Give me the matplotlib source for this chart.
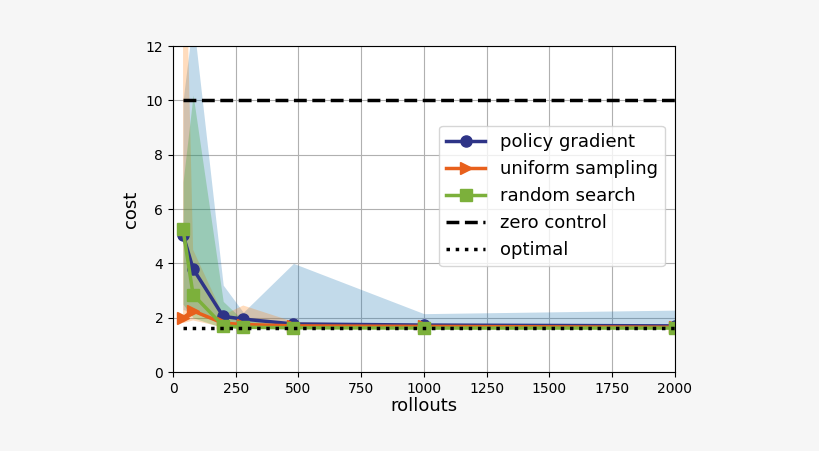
import numpy as np
import matplotlib.pyplot as plt

# rollouts budgets
rollouts = [40, 80, 200, 280, 480, 1000, 2000]

# mean cost
pg_mean = [5.05, 3.8, 2.05, 1.95, 1.77, 1.73, 1.7]
us_mean = [2.0, 2.25, 1.8, 1.75, 1.7, 1.68, 1.65]
rs_mean = [5.25, 2.85, 1.7, 1.65, 1.63, 1.62, 1.62]

# bands (min / max)
pg_low = [2.3, 2.2, 1.75, 1.7, 1.65, 1.62, 1.6]
pg_high = [10.0, 13.0, 3.2, 2.2, 4.0, 2.15, 2.28]
us_low = [1.8, 1.9, 1.65, 1.64, 1.62, 1.61, 1.6]
us_high = [20.0, 4.5, 2.1, 2.45, 1.85, 1.72, 1.7]
rs_low = [2.5, 2.0, 1.62, 1.6, 1.6, 1.6, 1.6]
rs_high = [7.0, 10.2, 2.6, 1.9, 1.75, 1.68, 1.66]

zero_cost = 10.0
optimal_cost = 1.62

fig = plt.figure(figsize=(8.2, 4.51), dpi=100, facecolor='#f6f6f6')
ax = fig.add_axes([0.211, 0.175, 0.612, 0.723])

ax.fill_between(rollouts, pg_low, pg_high, color='#1f77b4', alpha=0.27, lw=0)
ax.fill_between(rollouts, us_low, us_high, color='#ff7f0e', alpha=0.27, lw=0)
ax.fill_between(rollouts, rs_low, rs_high, color='#2ca02c', alpha=0.27, lw=0)

ax.plot(rollouts, pg_mean, '-o', color='#2e3487', lw=2.5, ms=8, label='policy gradient')
ax.plot(rollouts, us_mean, '->', color='#e8601c', lw=2.5, ms=8, label='uniform sampling')
ax.plot(rollouts, rs_mean, '-s', color='#7cb03b', lw=2.5, ms=8, label='random search')
ax.hlines(zero_cost, rollouts[0], rollouts[-1], color='black', ls='--', lw=2.5, label='zero control')
ax.hlines(optimal_cost, rollouts[0], rollouts[-1], color='black', ls=':', lw=2.5, label='optimal')

ax.set_xlim(0, 2000)
ax.set_ylim(0, 12)
ax.set_xticks([0, 250, 500, 750, 1000, 1250, 1500, 1750, 2000])
ax.set_yticks([0, 2, 4, 6, 8, 10, 12])
ax.grid(True, color='#b0b0b0', lw=0.8)
ax.set_axisbelow(True)
ax.set_xlabel('rollouts', fontsize=13, labelpad=1)
ax.set_ylabel('cost', fontsize=13)
ax.tick_params(labelsize=10)

ax.legend(fontsize=13, loc='center right', bbox_to_anchor=(0.98, 0.54),
          borderaxespad=0, handlelength=2.15, labelspacing=0.5)

fig.savefig('out.png', dpi=100, facecolor=fig.get_facecolor())
